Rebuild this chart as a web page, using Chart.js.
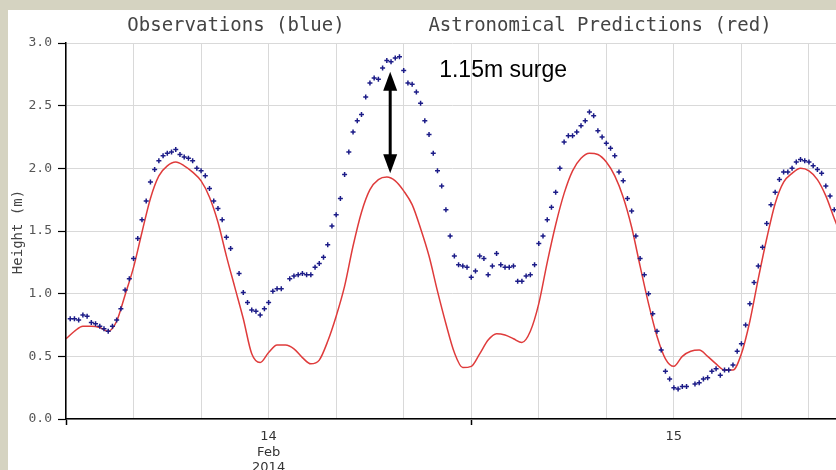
<!DOCTYPE html>
<html>
<head>
<meta charset="utf-8">
<script src="https://cdn.jsdelivr.net/npm/chart.js@4.4.1/dist/chart.umd.min.js"></script>
<style>
  html, body { margin: 0; padding: 0; background: #d5d3c1; overflow: hidden; }
  #wrap { position: absolute; left: 8px; top: 10px; width: 828px; height: 460px; background: #fff; overflow: hidden; }
</style>
</head>
<body>
<div id="wrap"><canvas id="tide" width="836" height="460"></canvas></div>
<script>
// hours are counted from 14 Feb 2014 00:00
const xTickHours = [0, 4, 8, 12, 16, 20, 24, 28, 32, 36, 40, 44];
const dayLabels = { 12: ["14", "Feb", "2014"], 36: "15" };
const yTicks = [0, 0.5, 1.0, 1.5, 2.0, 2.5, 3.0];

// astronomical predictions (red), every 30 min
const predStep = 0.5;
const predHeights = [
  0.64, 0.70, 0.74, 0.74, 0.73, 0.70, 0.78, 0.99, 1.21, 1.49,
  1.76, 1.94, 2.02, 2.05, 2.02, 1.97, 1.90, 1.77, 1.57, 1.30,
  1.05, 0.80, 0.52, 0.45, 0.53, 0.59, 0.59, 0.56, 0.49, 0.44,
  0.47, 0.62, 0.82, 1.06, 1.38, 1.65, 1.83, 1.91, 1.93, 1.90,
  1.82, 1.71, 1.52, 1.30, 1.02, 0.76, 0.53, 0.41, 0.42, 0.52,
  0.63, 0.68, 0.67, 0.64, 0.61, 0.70, 0.92, 1.25, 1.55, 1.80,
  1.98, 2.08, 2.12, 2.11, 2.05, 1.94, 1.77, 1.53, 1.22, 0.92,
  0.66, 0.48, 0.42, 0.50, 0.54, 0.55, 0.50, 0.44, 0.39, 0.39,
  0.52, 0.78, 1.12, 1.44, 1.72, 1.89, 1.96, 2.00, 1.98, 1.91,
  1.78, 1.60, 1.43
];

// observations (blue), every 15 min, null = no reading
const obsStep = 0.25;
const obsHeights = [
  null, 0.80, 0.80, 0.79, 0.83, 0.82, 0.77, 0.76, 0.74, 0.72,
  0.70, 0.74, 0.79, 0.88, 1.03, 1.12, 1.28, 1.44, 1.59, 1.74,
  1.89, 1.99, 2.06, 2.10, 2.12, 2.13, 2.15, 2.11, 2.09, 2.08,
  2.06, 2.00, 1.98, 1.94, 1.84, 1.74, 1.68, 1.59, 1.45, 1.36,
  null, 1.16, 1.01, 0.93, 0.87, 0.86, 0.83, 0.88, 0.93, 1.02,
  1.04, 1.04, null, 1.12, 1.14, 1.15, 1.16, 1.15, 1.15, 1.21,
  1.24, 1.29, 1.39, 1.54, 1.63, 1.76, 1.95, 2.13, 2.29, 2.38,
  2.43, 2.57, 2.68, 2.72, 2.71, 2.80, 2.86, 2.85, 2.88, 2.89,
  2.78, 2.68, 2.67, 2.61, 2.52, 2.38, 2.27, 2.12, 1.98, 1.86,
  1.67, 1.46, 1.30, 1.23, 1.22, 1.21, 1.13, 1.18, 1.30, 1.28,
  1.15, 1.22, 1.32, 1.23, 1.21, 1.21, 1.22, 1.10, 1.10, 1.14,
  1.15, 1.23, 1.40, 1.46, 1.59, 1.69, 1.81, 2.00, 2.21, 2.26,
  2.26, 2.29, 2.34, 2.38, 2.45, 2.42, 2.30, 2.25, 2.20, 2.16,
  2.10, 1.97, 1.90, 1.76, 1.66, 1.46, 1.28, 1.15, 1.00, 0.84,
  0.70, 0.55, 0.38, 0.32, 0.25, 0.24, 0.26, 0.26, null, 0.28,
  0.29, 0.32, 0.33, 0.38, 0.40, 0.35, 0.39, 0.39, 0.43, 0.54,
  0.60, 0.75, 0.92, 1.09, 1.22, 1.37, 1.56, 1.71, 1.81, 1.91,
  1.97, 1.97, 2.00, 2.05, 2.07, 2.06, 2.05, 2.02, 1.99, 1.96,
  1.86, 1.78, 1.67, 1.55
];

// surge annotation
const arrowHour = 19.2, arrowTop = 2.77, arrowBottom = 1.96;
const surgeText = "1.15m surge", surgeHour = 22.1, surgeHeight = 2.73;

const mono = '"DejaVu Sans Mono", monospace';

const overlay = {
  id: "overlay",
  afterDatasetsDraw(chart) {
    const { ctx, scales: { x, y } } = chart;
    const ax = x.getPixelForValue(arrowHour);
    const y1 = y.getPixelForValue(arrowTop);
    const y2 = y.getPixelForValue(arrowBottom);
    const head = 19, hw = 7;
    ctx.save();
    ctx.strokeStyle = "#000";
    ctx.fillStyle = "#000";
    ctx.lineWidth = 3;
    ctx.beginPath();
    ctx.moveTo(ax, y1 + head - 2);
    ctx.lineTo(ax, y2 - head + 2);
    ctx.stroke();
    ctx.beginPath();
    ctx.moveTo(ax, y1); ctx.lineTo(ax - hw, y1 + head); ctx.lineTo(ax + hw, y1 + head);
    ctx.closePath(); ctx.fill();
    ctx.beginPath();
    ctx.moveTo(ax, y2); ctx.lineTo(ax - hw, y2 - head); ctx.lineTo(ax + hw, y2 - head);
    ctx.closePath(); ctx.fill();

    ctx.font = '23px "Liberation Sans", Arial, sans-serif';
    ctx.textAlign = "left";
    ctx.textBaseline = "alphabetic";
    ctx.fillText(surgeText, x.getPixelForValue(surgeHour), y.getPixelForValue(surgeHeight));
    ctx.restore();
  },
  afterDraw(chart) {
    const ctx = chart.ctx;
    ctx.save();
    ctx.fillStyle = "#444";
    ctx.font = "19px " + mono;
    ctx.textAlign = "center";
    ctx.textBaseline = "alphabetic";
    ctx.fillText("Observations (blue)", 228, 21);
    ctx.fillText("Astronomical Predictions (red)", 592, 21);

    // y axis title
    ctx.font = "14px " + mono;
    ctx.textBaseline = "middle";
    ctx.translate(10, 222);
    ctx.rotate(-Math.PI / 2);
    ctx.fillText("Height (m)", 0, 0);
    ctx.restore();
  }
};

new Chart(document.getElementById("tide"), {
  type: "line",
  data: {
    datasets: [
      {
        label: "Observations",
        data: obsHeights.map((v, i) => ({ x: i * obsStep, y: v })),
        showLine: false,
        pointStyle: "cross",
        pointRadius: 2.5,
        pointBorderWidth: 1.5,
        borderColor: "#1c1c88",
        backgroundColor: "#1c1c88",
        order: 0
      },
      {
        label: "Predictions",
        data: predHeights.map((v, i) => ({ x: i * predStep, y: v })),
        borderColor: "#df3b3b",
        borderWidth: 1.5,
        pointRadius: 0,
        cubicInterpolationMode: "monotone",
        order: 1
      }
    ]
  },
  options: {
    responsive: false,
    animation: false,
    layout: { padding: { top: 33, right: 0, left: 0, bottom: 0 } },
    plugins: { legend: { display: false }, tooltip: { enabled: false }, title: { display: false } },
    scales: {
      x: {
        type: "linear",
        min: 0,
        max: 45.75,
        afterFit: (s) => { s.height = 51; },
        afterBuildTicks: (s) => { s.ticks = xTickHours.map(v => ({ value: v })); },
        grid: {
          color: "#d9d9d9",
          lineWidth: 1,
          tickLength: 6,
          tickColor: (c) => (c.tick && c.tick.value % 24 === 0 ? "#000" : "rgba(0,0,0,0)"),
          tickWidth: 1.5
        },
        border: { color: "#000", width: 1.5, z: 1 },
        ticks: {
          autoSkip: false,
          maxRotation: 0,
          padding: 4,
          color: "#333",
          font: { family: '"DejaVu Sans", sans-serif', size: 13, lineHeight: 1.2 },
          callback: (v) => dayLabels[v] || ""
        }
      },
      y: {
        min: 0,
        max: 3,
        afterFit: (s) => { s.width = 58; },
        afterBuildTicks: (s) => { s.ticks = yTicks.map(v => ({ value: v })); },
        grid: {
          color: "#d9d9d9",
          lineWidth: 1,
          tickLength: 8,
          tickColor: "#000",
          tickWidth: 1.2
        },
        border: { color: "#000", width: 1.5, z: 1 },
        ticks: {
          padding: 6,
          color: "#555",
          font: { family: mono, size: 13 },
          callback: (v) => v.toFixed(1)
        }
      }
    }
  },
  plugins: [overlay]
});
</script>
</body>
</html>
